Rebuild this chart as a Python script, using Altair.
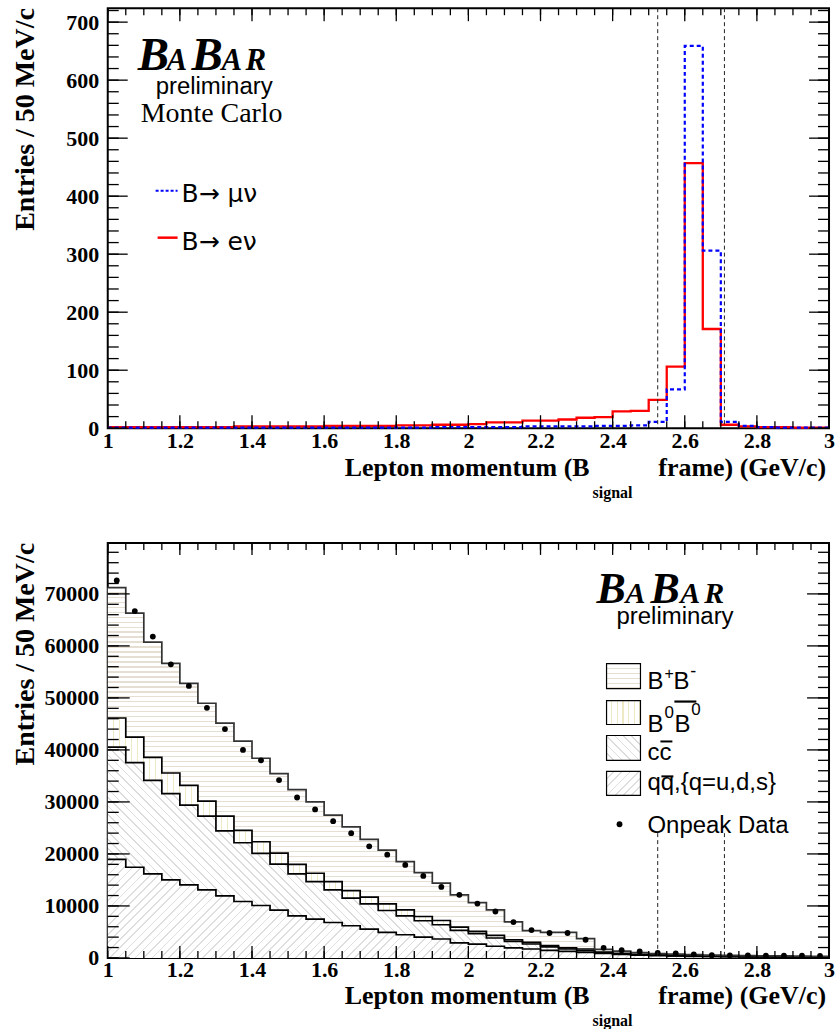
import altair as alt
import pandas as pd

# ---------------- data ----------------
bin_start = 1.0
bin_width = 0.05
n_bins = 40

# top panel: signal Monte Carlo (entries per 50 MeV/c)
e_nu = [2, 2, 2, 2, 2, 2, 2, 3, 3, 3, 3, 3, 4, 4, 4, 4, 5, 5, 6, 6,
        7, 10, 10, 13, 13, 15, 18, 19, 29, 30, 49, 106, 457, 171, 6, 3, 2, 2, 1, 1]
mu_nu = [1, 1, 1, 1, 1, 1, 1, 1, 1, 1, 1, 1, 1, 1, 1, 1, 1, 1, 2, 2,
         2, 2, 2, 3, 3, 3, 3, 4, 4, 5, 11, 67, 659, 306, 11, 4, 2, 1, 1, 1]

# bottom panel: background components (stacked) and on-peak data
uds = [18970, 17440, 16150, 15000, 14040, 13090, 11940, 10850, 10080, 9180,
       8100, 7470, 6820, 6190, 5560, 4910, 4460, 4020, 3640, 2900,
       2650, 2250, 1950, 1720, 1460, 1270, 1080, 850, 700, 560,
       450, 380, 320, 280, 250, 220, 190, 170, 150, 130]
ccbar = [21570, 20110, 18010, 16610, 15330, 14170, 12510, 11300, 10040, 8860,
         8050, 7210, 6270, 5310, 4840, 4210, 3640, 3130, 2740, 2390,
         2010, 1580, 1230, 960, 650, 450, 320, 150, 100, 80,
         70, 50, 50, 40, 30, 30, 30, 25, 20, 20]
b0b0 = [5600, 4910, 4410, 3950, 3830, 2880, 2820, 2370, 2220, 2130,
        1860, 1610, 1590, 1450, 1290, 1280, 1150, 820, 820, 650,
        440, 500, 320, 310, 250, 200, 320, 100, 80, 60,
        40, 30, 30, 25, 20, 20, 20, 15, 15, 10]
bpbm = [25060, 23840, 22170, 21080, 19600, 18830, 17870, 17170, 16060, 15270,
        14370, 13710, 12780, 12260, 11110, 10350, 9260, 8430, 7170, 6190,
        5540, 4920, 3450, 2260, 2570, 3010, 2010, 550, 420, 350,
        290, 260, 220, 195, 180, 170, 170, 170, 165, 160]
onpeak = [72600, 66700, 61800, 56450, 52300, 48100, 44000, 40000, 38000, 34200,
          30850, 28550, 26300, 24000, 21460, 19850, 17880, 15770, 13660, 12130,
          10460, 8930, 6900, 5360, 4790, 4790, 3500, 1950, 1500, 1260,
          960, 880, 690, 520, 500, 480, 460, 440, 420, 380]

cuts = [2.525, 2.71]
cut_top_bottom_panel = 24000

x_tick_labels = [1, 1.2, 1.4, 1.6, 1.8, 2, 2.2, 2.4, 2.6, 2.8, 3]
y_labels_top = [0, 100, 200, 300, 400, 500, 600, 700]
y_labels_bot = [0, 10000, 20000, 30000, 40000, 50000, 60000, 70000]

# ---------------- layout ----------------
W = 723
HT = 421
HB = 416
YMAX_T = 724
YMAX_B = 79800

x_edges = [round(bin_start + bin_width * i, 3) for i in range(n_bins + 1)]
x_centers = [round(bin_start + bin_width * (i + 0.5), 3) for i in range(n_bins)]
x_minor = [round(bin_start + 0.05 * i, 3) for i in range(41)]
y_minor_top = list(range(0, 721, 20))
y_minor_bot = list(range(0, 78001, 2000))


def ext(v):
    return list(v) + [v[-1]]


xs = alt.Scale(domain=[1, 3], nice=False, zero=False)
ys_t = alt.Scale(domain=[0, YMAX_T], nice=False, zero=True)
ys_b = alt.Scale(domain=[0, YMAX_B], nice=False, zero=True)
x_axis = alt.Axis(values=x_tick_labels, format="~g", title=None, labelFlush=False, labelOverlap=False)
y_axis_t = alt.Axis(values=y_labels_top, format="d", title=None, labelOverlap=False)
y_axis_b = alt.Axis(values=y_labels_bot, format="d", title=None, labelOverlap=False)


def X(f):
    return alt.X(f, type="quantitative", scale=xs, axis=x_axis)


def one():
    return pd.DataFrame({"t": [""]})


def txt(s, x, y, size, font="Liberation Sans", weight="normal", style="normal",
        align="left", angle=0, baseline="alphabetic"):
    return alt.Chart(pd.DataFrame({"t": [s]})).mark_text(
        font=font, fontSize=size, fontWeight=weight, fontStyle=style,
        align=align, baseline=baseline, angle=angle, color="black"
    ).encode(text="t:N", x=alt.value(x), y=alt.value(y))


def deco(x1, x2, y1, y2, color="black", width=1.0, dash=None):
    kw = dict(color=color, strokeWidth=width)
    if dash:
        kw["strokeDash"] = dash
    return alt.Chart(one()).mark_rule(**kw).encode(
        x=alt.value(x1), x2=alt.value(x2), y=alt.value(y1), y2=alt.value(y2))


def stripes(color, n, frac, x1, y1, x2, y2):
    stops = []
    for k in range(n):
        a = round(k / n, 5)
        b = round((k + 1 - frac) / n, 5)
        c = round((k + 1) / n, 5)
        stops += [{"offset": a, "color": "white"}, {"offset": b, "color": "white"},
                  {"offset": b, "color": color}, {"offset": c, "color": color}]
    return {"gradient": "linear", "stops": stops, "x1": x1, "y1": y1, "x2": x2, "y2": y2}


def diag(color, wpx, hpx, spacing, frac, backslash):
    r = hpx / wpx
    s = (1 + r) / (1 + r * r)
    n = max(2, int(round((wpx + hpx) / (spacing * 1.414))))
    if backslash:
        return stripes(color, n, frac, 0, 1, s, 1 - s * r)
    return stripes(color, n, frac, 0, 0, s, s * r)


def tick_layers(h, ys, yaxis, ymaj, ymin, xL, xl, yL, yl):
    out = []
    for vals, L in [(x_tick_labels, xL), (x_minor, xl)]:
        df = pd.DataFrame({"v": vals})
        out.append(alt.Chart(df).mark_rule(color="black", strokeWidth=1.3).encode(
            x=X("v"), y=alt.value(h), y2=alt.value(h - L)))
        out.append(alt.Chart(df).mark_rule(color="black", strokeWidth=1.3).encode(
            x=X("v"), y=alt.value(0), y2=alt.value(L)))
    for vals, L in [(ymaj, yL), (ymin, yl)]:
        df = pd.DataFrame({"v": vals})
        Y = alt.Y("v:Q", scale=ys, axis=yaxis)
        out.append(alt.Chart(df).mark_rule(color="black", strokeWidth=1.3).encode(
            y=Y, x=alt.value(0), x2=alt.value(L)))
        out.append(alt.Chart(df).mark_rule(color="black", strokeWidth=1.3).encode(
            y=Y, x=alt.value(W), x2=alt.value(W - L)))
    return out


def babar(x0, y0, big=47, small=31):
    offs = [0, 29, 54, 84, 108]
    letters = ["B", "A", "B", "A", "R"]
    sizes = [big, small, big, small, small]
    return [txt(l, x0 + o, y0, sz, font="Liberation Serif", weight="bold", style="italic")
            for l, o, sz in zip(letters, offs, sizes)]


def xtitle(h, dy):
    return [
        txt("Lepton momentum (B", 483, h + dy, 26, font="Liberation Serif", weight="bold", align="right"),
        txt("signal", 486, h + dy + 22, 16, font="Liberation Serif", weight="bold"),
        txt("frame) (GeV/c)", 720, h + dy, 26, font="Liberation Serif", weight="bold", align="right"),
    ]


def ytitle():
    return txt("Entries / 50 MeV/c", -82, 0, 28, font="Liberation Serif", weight="bold",
               align="right", angle=270, baseline="middle")


# ---------------- top panel ----------------
df_t = pd.DataFrame({"x": x_edges, "e": ext(e_nu), "mu": ext(mu_nu)})
df_cut = pd.DataFrame({"c": cuts})

top_layers = [
    alt.Chart(df_t).mark_line(interpolate="step-after", color="#ff0000", strokeWidth=2.3).encode(
        x=X("x"), y=alt.Y("e:Q", scale=ys_t, axis=y_axis_t)),
    alt.Chart(df_t).mark_line(interpolate="step-after", color="#0000ff", strokeWidth=2.2,
                              strokeDash=[4, 3]).encode(
        x=X("x"), y=alt.Y("mu:Q", scale=ys_t, axis=y_axis_t)),
    alt.Chart(df_cut).mark_rule(color="#222222", strokeWidth=1, strokeDash=[4, 3]).encode(
        x=X("c"), y=alt.value(0), y2=alt.value(HT)),
]
top_layers += tick_layers(HT, ys_t, y_axis_t, y_labels_top, y_minor_top, 13, 7, 20, 11)
top_layers += babar(30, 62)
top_layers += [
    txt("preliminary", 48, 86, 24),
    txt("Monte Carlo", 33, 114, 28, font="Liberation Serif"),
    deco(48, 70, 183, 183, color="#0000ff", width=2, dash=[3, 2]),
    txt("B\u2192 \u03bc\u03bd", 74, 194, 25, font="DejaVu Sans"),
    deco(50, 70, 230, 230, color="#ff0000", width=2.5),
    txt("B\u2192 e\u03bd", 74, 242, 25, font="DejaVu Sans"),
    ytitle(),
]
top_layers += xtitle(HT, 48)
top_layers.append(alt.Chart(one()).mark_rect(opacity=0).encode(
    x=alt.value(-107), x2=alt.value(W + 7), y=alt.value(-6), y2=alt.value(HT)))
top = alt.layer(*top_layers).properties(width=W, height=HT)

# ---------------- bottom panel ----------------
U = uds
C = [a + b for a, b in zip(U, ccbar)]
Z = [a + b for a, b in zip(C, b0b0)]
T = [a + b for a, b in zip(Z, bpbm)]
df_b = pd.DataFrame({"x": x_edges, "z0": [0] * 41, "u": ext(U), "c": ext(C), "z": ext(Z), "t": ext(T)})
df_p = pd.DataFrame({"x": x_centers, "n": onpeak})


def hpx(lo, hi):
    return (max(hi) - min(lo)) / YMAX_B * HB


COL_BP = "#e6ddd3"
COL_B0 = "#efeac6"
COL_CC = "#dcdcdc"
COL_UDS = "#dedede"

g_bp = stripes(COL_BP, int(round(hpx(Z, T) / 5)), 0.22, 0, 0, 0, 1)
g_b0 = stripes(COL_B0, int(round(W / 6)), 0.2, 0, 0, 1, 0)
g_cc = diag(COL_CC, W, hpx(U, C), 6, 0.2, True)
g_uds = diag(COL_UDS, W, hpx([0], U), 6, 0.2, False)

Yb = lambda f: alt.Y(f, type="quantitative", scale=ys_b, axis=y_axis_b)
bot_layers = []
for lo, hi, g in [("z0", "u", g_uds), ("u", "c", g_cc), ("c", "z", g_b0), ("z", "t", g_bp)]:
    bot_layers.append(alt.Chart(df_b).mark_area(interpolate="step-after", fill=g, opacity=1).encode(
        x=X("x"), y=Yb(hi), y2=alt.Y2(lo)))
for hi, col in [("u", "black"), ("c", "black"), ("z", "black"), ("t", "#333333")]:
    bot_layers.append(alt.Chart(df_b).mark_line(interpolate="step-after", color=col, strokeWidth=1.7).encode(
        x=X("x"), y=Yb(hi)))
bot_layers.append(alt.Chart(df_p).mark_circle(size=34, color="black", opacity=1).encode(
    x=X("x"), y=Yb("n")))
df_cut_b = pd.DataFrame({"c": cuts, "top": [cut_top_bottom_panel] * 2, "zero": [0, 0]})
bot_layers.append(alt.Chart(df_cut_b).mark_rule(color="#222222", strokeWidth=1, strokeDash=[4, 3]).encode(
    x=X("c"), y=Yb("top"), y2=alt.Y2("zero")))
bot_layers += tick_layers(HB, ys_b, y_axis_b, y_labels_bot, y_minor_bot, 12, 7, 22, 11)
bot_layers += babar(490, 60, big=44, small=30)
bot_layers.append(txt("preliminary", 510, 81, 24))

# legend
boxes = [
    (121, 146, stripes(COL_BP, 5, 0.22, 0, 0, 0, 1)),
    (158, 182, stripes(COL_B0, 6, 0.2, 0, 0, 1, 0)),
    (193, 218, diag(COL_CC, 34, 25, 6, 0.2, True)),
    (229, 253, diag(COL_UDS, 34, 24, 6, 0.2, False)),
]
for y1, y2, g in boxes:
    bot_layers.append(alt.Chart(one()).mark_rect(fill=g, stroke="black", strokeWidth=1.2).encode(
        x=alt.value(500), x2=alt.value(534), y=alt.value(y1), y2=alt.value(y2)))
bot_layers += [
    txt("B", 541, 146, 24), txt("+", 558, 136, 16), txt("B", 567, 146, 24), txt("-", 584, 134, 18),
    txt("B", 541, 190, 24), txt("0", 558, 175, 17), txt("B", 568, 190, 24), txt("0", 585, 172, 17),
    deco(568, 590, 159, 159, width=2.2),
    txt("cc", 541, 218, 24), deco(554, 566, 199, 199, width=2),
    txt("qq,{q=u,d,s}", 541, 248, 24), deco(555, 567, 234, 234, width=2),
    txt("Onpeak Data", 541, 291, 24),
]
bot_layers.append(alt.Chart(one()).mark_circle(size=34, color="black", opacity=1).encode(
    x=alt.value(513), y=alt.value(282)))
bot_layers.append(ytitle())
bot_layers += xtitle(HB, 46)
bot_layers.append(alt.Chart(one()).mark_rect(opacity=0).encode(
    x=alt.value(-107), x2=alt.value(W + 7), y=alt.value(0), y2=alt.value(HB + 71)))
bottom = alt.layer(*bot_layers).properties(width=W, height=HB)

chart = alt.vconcat(top, bottom, spacing=115, bounds="flush", padding=0).configure_view(
    stroke="black", strokeWidth=2
).configure_axis(
    grid=False, ticks=False, domain=False, labelFont="Liberation Serif", labelFontSize=22,
    labelFontWeight="bold", labelColor="black"
).configure_axisX(labelPadding=2).configure_axisY(labelPadding=9)

chart.save("out.html", embed_options={"renderer": "svg", "actions": False})
